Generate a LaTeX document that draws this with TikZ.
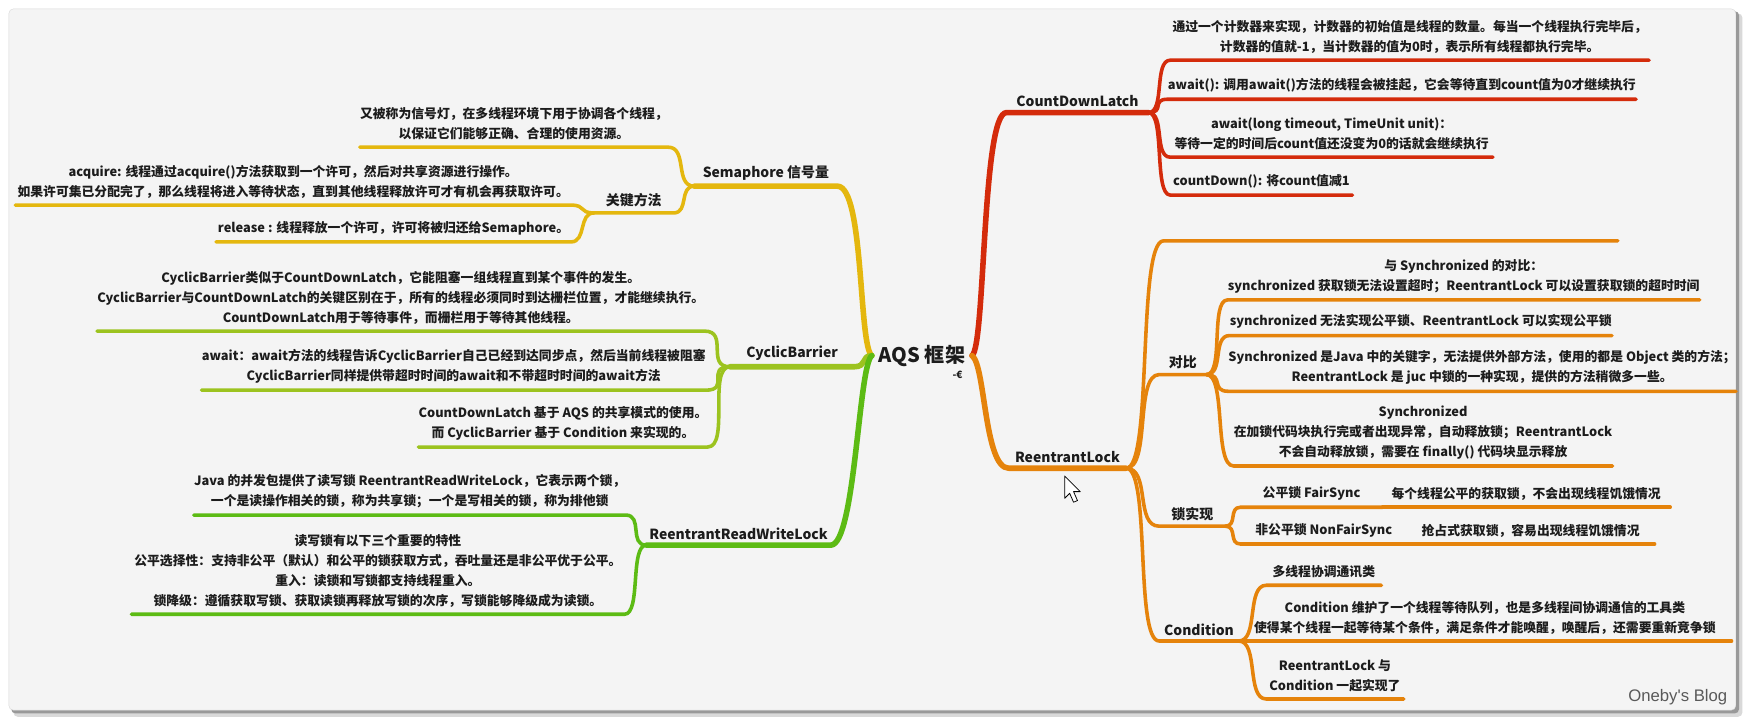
\documentclass[tikz,border=0pt]{standalone}
\usepackage{fontspec}
\setmainfont{Noto Sans CJK SC}
\newfontfamily\blogfont{Liberation Sans}
\definecolor{ink}   {HTML}{1C1C1C}
\definecolor{canvas}{HTML}{F4F4F4}
\definecolor{rim}   {HTML}{DADADA}
\definecolor{latch} {HTML}{D42B0B}
\definecolor{lock}  {HTML}{E5830B}
\definecolor{sema}  {HTML}{E4B70E}
\definecolor{cyclic}{HTML}{9CC31F}
\definecolor{rwlock}{HTML}{5CBB14}
\newcommand{\hubfont}{\fontsize{18}{20}\selectfont\bfseries}
\newcommand{\topicfont}{\fontsize{12.5}{15}\selectfont\bfseries}
\newcommand{\leaffont}{\fontsize{11.5}{18}\selectfont\bfseries}
\tikzset{
  hub/.style   ={font=\hubfont, text=ink, inner xsep=6pt, inner ysep=2pt},
  topic/.style ={font=\topicfont, text=ink, anchor=south, inner xsep=0pt, inner ysep=5pt},
  leaf/.style  ={font=\leaffont, text=ink, align=center, anchor=south,
                 inner xsep=0pt, inner ysep=6pt},
  trunk/.style ={line width=5pt, line cap=round, line join=round},
  twig/.style  ={line width=3.2pt, line cap=round, line join=round},
}

\begin{document}
\begin{tikzpicture}[x=1pt,y=-1pt]
  \useasboundingbox (0,0) rectangle (1568,648);
  \fill[white] (0,0) rectangle (1568,648);
  \fill[black!15, rounded corners=4pt] (12,12) rectangle (1563,643);
  \fill[black!40, rounded corners=4pt] (10,10) rectangle (1560,640);
  \draw[rim, fill=canvas, rounded corners=4pt] (8,8) rectangle (1557,637);

  \node[hub] (aqs) at (827,319) {AQS 框架};
  \node[font=\fontsize{9}{9}\selectfont\bfseries, text=ink] (mark) at (859,336) {-€};

  % left half
  \node[topic, minimum width=128pt] (sem) at (687,167) {Semaphore 信号量};
  \node[leaf, minimum width=272pt] (semA) at (461,132)
    {又被称为信号灯，在多线程环境下用于协调各个线程，\\以保证它们能够正确、合理的使用资源。};
  \node[topic, minimum width=71pt] (key) at (568.5,191) {关键方法};
  \node[leaf, minimum width=498pt] (acq) at (263,184)
    {acquire: 线程通过acquire()方法获取到一个许可，然后对共享资源进行操作。\\如果许可集已分配完了，那么线程将进入等待状态，直到其他线程释放许可才有机会再获取许可。};
  \node[leaf, minimum width=318pt] (rel) at (353,217)
    {release : 线程释放一个许可，许可将被归还给Semaphore。};

  \node[topic, minimum width=111pt] (cb) at (710.5,329) {CyclicBarrier};
  \node[leaf, minimum width=525pt] (cbA) at (359.5,297)
    {CyclicBarrier类似于CountDownLatch，它能阻塞一组线程直到某个事件的发生。\\CyclicBarrier与CountDownLatch的关键区别在于，所有的线程必须同时到达栅栏位置，才能继续执行。\\CountDownLatch用于等待事件，而栅栏用于等待其他线程。};
  \node[leaf, minimum width=430pt] (cbB) at (407,350)
    {await：await方法的线程告诉CyclicBarrier自己已经到达同步点，然后当前线程被阻塞\\CyclicBarrier同样提供带超时时间的await和不带超时时间的await方法};
  \node[leaf, minimum width=240pt] (cbC) at (505,401)
    {CountDownLatch 基于 AQS 的共享模式的使用。\\而 CyclicBarrier 基于 Condition 来实现的。};

  \node[topic, minimum width=165pt] (rrwl) at (662.5,489) {ReentrantReadWriteLock};
  \node[leaf, minimum width=381pt] (rrA) at (367.5,462)
    {Java 的并发包提供了读写锁 ReentrantReadWriteLock，它表示两个锁，\\一个是读操作相关的锁，称为共享锁；一个是写相关的锁，称为排他锁};
  \node[leaf, minimum width=442pt] (rrB) at (339,551)
    {读写锁有以下三个重要的特性\\公平选择性：支持非公平（默认）和公平的锁获取方式，吞吐量还是非公平优于公平。\\重入：读锁和写锁都支持线程重入。\\锁降级：遵循获取写锁、获取读锁再释放写锁的次序，写锁能够降级成为读锁。};

  % right half
  \node[topic, minimum width=127pt] (cdl) at (966.5,101) {CountDownLatch};
  \node[leaf, minimum width=429pt] (cdlA) at (1264.5,54)
    {通过一个计数器来实现，计数器的初始值是线程的数量。每当一个线程执行完毕后，\\计数器的值就-1，当计数器的值为0时，表示所有线程都执行完毕。};
  \node[leaf, minimum width=415pt] (cdlB) at (1257.5,89)
    {await(): 调用await()方法的线程会被挂起，它会等待直到count值为0才继续执行};
  \node[leaf, minimum width=289pt] (cdlC) at (1194.5,141)
    {await(long timeout, TimeUnit unit)：\\等待一定的时间后count值还没变为0的话就会继续执行};
  \node[leaf, minimum width=163pt] (cdlD) at (1131.5,175) {countDown(): 将count值减1};

  \node[topic, minimum width=105pt] (rl) at (957.5,420) {ReentrantLock};
  \node[leaf, minimum width=407pt] (rlE) at (1247.5,216) {};
  \node[topic, minimum width=42pt] (cmp) at (1061,336) {对比};
  \node[leaf, minimum width=418pt] (cmpA) at (1313,269)
    {与 Synchronized 的对比：\\synchronized 获取锁无法设置超时；ReentrantLock 可以设置获取锁的超时时间};
  \node[leaf, minimum width=341pt] (cmpB) at (1274.5,301)
    {synchronized 无法实现公平锁、ReentrantLock 可以实现公平锁};
  \node[leaf, minimum width=451pt] (cmpC) at (1329.5,351)
    {Synchronized 是Java 中的关键字，无法提供外部方法，使用的都是 Object 类的方法；\\ReentrantLock 是 juc 中锁的一种实现，提供的方法稍微多一些。};
  \node[leaf, minimum width=333pt] (cmpD) at (1276.5,418)
    {Synchronized\\在加锁代码块执行完或者出现异常，自动释放锁；ReentrantLock\\不会自动释放锁，需要在 finally() 代码块显示释放};

  \node[topic, minimum width=59pt] (lock) at (1069.5,472) {锁实现};
  \node[leaf, minimum width=127pt] (fair) at (1176.5,455) {公平锁 FairSync};
  \node[leaf, minimum width=258pt] (fairD) at (1369,455) {每个线程公平的获取锁，不会出现线程饥饿情况};
  \node[leaf, minimum width=149pt] (unfair) at (1187.5,488) {非公平锁 NonFairSync};
  \node[leaf, minimum width=222pt] (unfairD) at (1373,488) {抢占式获取锁，容易出现线程饥饿情况};

  \node[topic, minimum width=71pt] (cond) at (1075.5,575) {Condition};
  \node[leaf, minimum width=103pt] (condA) at (1187.5,525) {多线程协调通讯类};
  \node[leaf, minimum width=442pt] (condB) at (1332,575)
    {Condition 维护了一个线程等待队列，也是多线程间协调通信的工具类\\使得某个线程一起等待某个条件，满足条件才能唤醒，唤醒后，还需要重新竞争锁};
  \node[leaf, minimum width=123pt] (condC) at (1197.5,627) {ReentrantLock 与\\Condition 一起实现了};

  % branches
  \draw[trunk,sema]   (aqs.west) .. controls +(-12,-8) and +(24,0) .. (sem.south east) -- (sem.south west);
  \draw[trunk,cyclic] (aqs.west) .. controls +(-10,0) and +(12,0) .. (cb.south east) -- (cb.south west);
  \draw[trunk,rwlock] (aqs.west) .. controls +(-12,8) and +(22,0) .. (rrwl.south east) -- (rrwl.south west);
  \draw[trunk,latch]  (aqs.east) .. controls +(12,-8) and +(-22,0) .. (cdl.south west) -- (cdl.south east);
  \draw[trunk,lock]   (aqs.east) .. controls +(12,8) and +(-22,0) .. (rl.south west) -- (rl.south east);

  \draw[twig,sema] (sem.south west) .. controls +(-18,0) and +(18,0) .. (semA.south east) -- (semA.south west);
  \draw[twig,sema] (sem.south west) .. controls +(-14,0) and +(14,0) .. (key.south east) -- (key.south west);
  \draw[twig,sema] (key.south west) .. controls +(-14,0) and +(14,0) .. (acq.south east) -- (acq.south west);
  \draw[twig,sema] (key.south west) .. controls +(-14,0) and +(14,0) .. (rel.south east) -- (rel.south west);

  \draw[twig,cyclic] (cb.south west) .. controls +(-22,0) and +(22,0) .. (cbA.south east) -- (cbA.south west);
  \draw[twig,cyclic] (cb.south west) .. controls +(-22,0) and +(22,0) .. (cbB.south east) -- (cbB.south west);
  \draw[twig,cyclic] (cb.south west) .. controls +(-20,0) and +(20,0) .. (cbC.south east) -- (cbC.south west);

  \draw[twig,rwlock] (rrwl.south west) .. controls +(-16,0) and +(16,0) .. (rrA.south east) -- (rrA.south west);
  \draw[twig,rwlock] (rrwl.south west) .. controls +(-15,0) and +(15,0) .. (rrB.south east) -- (rrB.south west);

  \draw[twig,latch] (cdl.south east) .. controls +(15,0) and +(-15,0) .. (cdlA.south west) -- (cdlA.south east);
  \draw[twig,latch] (cdl.south east) .. controls +(15,0) and +(-15,0) .. (cdlB.south west) -- (cdlB.south east);
  \draw[twig,latch] (cdl.south east) .. controls +(15,0) and +(-15,0) .. (cdlC.south west) -- (cdlC.south east);
  \draw[twig,latch] (cdl.south east) .. controls +(15,0) and +(-15,0) .. (cdlD.south west) -- (cdlD.south east);

  \draw[twig,lock] (rl.south east) .. controls +(24,0) and +(-24,0) .. (rlE.south west) -- (rlE.south east);
  \draw[twig,lock] (rl.south east) .. controls +(22,0) and +(-22,0) .. (cmp.south west) -- (cmp.south east);
  \draw[twig,lock] (rl.south east) .. controls +(22,0) and +(-22,0) .. (lock.south west) -- (lock.south east);
  \draw[twig,lock] (rl.south east) .. controls +(22,0) and +(-22,0) .. (cond.south west) -- (cond.south east);

  \draw[twig,lock] (cmp.south east) .. controls +(16,0) and +(-16,0) .. (cmpA.south west) -- (cmpA.south east);
  \draw[twig,lock] (cmp.south east) .. controls +(16,0) and +(-16,0) .. (cmpB.south west) -- (cmpB.south east);
  \draw[twig,lock] (cmp.south east) .. controls +(16,0) and +(-16,0) .. (cmpC.south west) -- (cmpC.south east);
  \draw[twig,lock] (cmp.south east) .. controls +(18,0) and +(-18,0) .. (cmpD.south west) -- (cmpD.south east);

  \draw[twig,lock] (lock.south east) .. controls +(11,0) and +(-11,0) .. (fair.south west) -- (fair.south east);
  \draw[twig,lock] (lock.south east) .. controls +(11,0) and +(-11,0) .. (unfair.south west) -- (unfair.south east);
  \draw[twig,lock] (fair.south east) -- (fairD.south east);
  \draw[twig,lock] (unfair.south east) -- (unfairD.south east);

  \draw[twig,lock] (cond.south east) .. controls +(18,0) and +(-18,0) .. (condA.south west) -- (condA.south east);
  \draw[twig,lock] (cond.south east) -- (condB.south east);
  \draw[twig,lock] (cond.south east) .. controls +(18,0) and +(-18,0) .. (condC.south west) -- (condC.south east);

  \draw[fill=white, line width=0.7pt, line join=round]
    (955,427) -- (955,447) -- (959.5,442.5) -- (963,450.5) -- (966.5,449) -- (963,441) -- (969,441) -- cycle;
  \node[font=\blogfont\fontsize{15}{15}\selectfont, text=black!65] (blog) at (1505,625) {Oneby's Blog};
\end{tikzpicture}
\end{document}
